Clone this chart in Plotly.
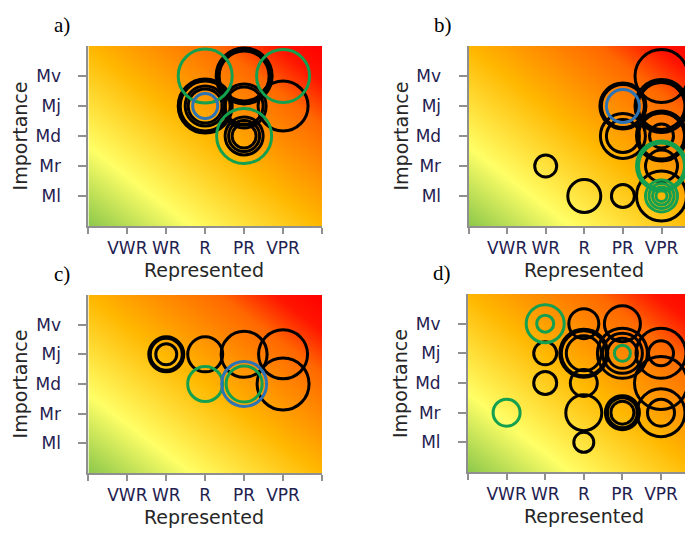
import plotly.graph_objects as go

# ---------------- data ----------------
x_categories = ["VWR", "WR", "R", "PR", "VPR"]
y_categories = ["Ml", "Mr", "Md", "Mj", "Mv"]
panel_labels = ["a)", "b)", "c)", "d)"]
x_title = "Represented"
y_title = "Importance"

# panel a  (group: k = black, g = green, b = blue)
a_x = ["R", "R", "R", "R", "PR", "PR", "PR", "PR", "PR", "PR", "PR", "PR", "VPR",
       "R", "VPR", "PR", "R"]
a_y = ["Mj", "Mj", "Mj", "Mj", "Mv", "Mv", "Mv", "Mj", "Mj", "Md", "Md", "Md", "Mj",
       "Mv", "Mv", "Md", "Mj"]
a_size = [54, 50, 40, 34, 56, 53, 50, 44, 38, 38, 31, 24, 50,
          54, 53, 55, 25]
a_group = ["k"] * 13 + ["g", "g", "g", "b"]

# panel b
b_x = ["VPR", "VPR", "VPR", "VPR", "PR", "PR", "PR", "PR", "VPR", "VPR", "VPR", "VPR", "VPR",
       "PR", "R", "WR",
       "VPR", "VPR", "VPR", "VPR", "VPR", "VPR", "PR"]
b_y = ["Mv", "Mj", "Mj", "Mj", "Mj", "Mj", "Md", "Md", "Md", "Md", "Md", "Mr", "Ml",
       "Ml", "Ml", "Mr",
       "Mr", "Mr", "Ml", "Ml", "Ml", "Ml", "Mj"]
b_size = [53, 53, 50, 47, 46, 43, 45, 33, 50, 46, 24, 32, 50,
          23, 33, 22,
          50, 46, 32, 25, 18, 11, 33]
b_group = ["k"] * 16 + ["g"] * 6 + ["b"]

# panel c
c_x = ["WR", "WR", "WR", "R", "PR", "VPR", "VPR", "R", "PR", "PR"]
c_y = ["Mj", "Mj", "Mj", "Mj", "Mj", "Mj", "Md", "Md", "Md", "Md"]
c_size = [35, 32, 21, 35, 46, 49, 52, 35, 45, 36]
c_group = ["k"] * 7 + ["g", "b", "g"]

# panel d
d_x = ["R", "PR", "WR", "R", "R", "R", "PR", "PR", "PR", "VPR", "VPR", "WR", "R", "VPR",
       "R", "PR", "PR", "PR", "VPR", "VPR", "R",
       "WR", "WR", "PR", "VWR"]
d_y = ["Mv", "Mv", "Mj", "Mj", "Mj", "Mj", "Mj", "Mj", "Mj", "Mj", "Mj", "Md", "Md", "Md",
       "Mr", "Mr", "Mr", "Mr", "Mr", "Mr", "Ml",
       "Mv", "Mv", "Mj", "Mr"]
d_size = [30, 36, 23, 48, 45, 35, 50, 40, 30, 50, 25, 23, 27, 53,
          36, 34, 30, 23, 48, 27, 20,
          38, 17, 16, 27]
d_group = ["k"] * 21 + ["g"] * 4

panels = [(a_x, a_y, a_size, a_group), (b_x, b_y, b_size, b_group),
          (c_x, c_y, c_size, c_group), (d_x, d_y, d_size, d_group)]

# ---------------- styling ----------------
OFF = 8                       # page body margin
W, H = 693 - OFF, 539 - OFF   # figure size so it fits the window exactly
group_colors = {"k": "#000000", "g": "#14A04E", "b": "#2E74B5"}
gradient = [[0.0, "#8CC84B"], [0.22, "#FFFF66"], [0.5, "#FFB700"],
            [0.78, "#FF6800"], [0.9, "#FF1500"], [1.0, "#FF0000"]]
tick_color = "#1F2150"
axis_gray = "#8F8F8F"


def fx(px):
    return (px - OFF) / W


def fy(py):
    return 1 - (py - OFF) / H


# window-pixel boxes of each plot area: (left, right, top, bottom, xmax)
boxes = [(88.4, 322, 46, 226, 6.0),
         (468.5, 693, 46, 226, (693 - 468.5) / 38.6),
         (88.4, 322, 295, 473, 6.0),
         (468, 693, 294, 472, (693 - 468) / 38.6)]

fig = go.Figure()
layout = dict(width=W, height=H, margin=dict(l=0, r=0, t=0, b=0),
              paper_bgcolor="white", plot_bgcolor="white", showlegend=False)
annotations = []

for i, ((px, py, ps, pg), (l, r, t, b, xmax)) in enumerate(zip(panels, boxes)):
    n = "" if i == 0 else str(i + 1)
    xa, ya = "x" + n, "y" + n
    # background gradient
    fig.add_trace(go.Heatmap(x=[0, 6], y=[0, 6], z=[[0, 0.5], [0.5, 1]], zmin=0, zmax=1,
                             zsmooth="best", colorscale=gradient, showscale=False,
                             hoverinfo="skip", xaxis=xa, yaxis=ya))
    for g in ["k", "g", "b"]:
        idx = [j for j in range(len(pg)) if pg[j] == g]
        if not idx:
            continue
        fig.add_trace(go.Scatter(
            x=[x_categories.index(px[j]) + 1 for j in idx],
            y=[y_categories.index(py[j]) + 1 for j in idx],
            mode="markers", xaxis=xa, yaxis=ya, hoverinfo="skip",
            marker=dict(symbol="circle-open", size=[ps[j] for j in idx], opacity=1,
                        color=group_colors[g], line=dict(width=3))))
    layout["xaxis" + n] = dict(
        domain=[fx(l), min(fx(r), 1.0)], range=[0, xmax], anchor=ya,
        tickvals=list(range(0, 7)), ticktext=[""] + x_categories + [""],
        showline=True, linecolor=axis_gray, linewidth=2, ticks="outside",
        ticklen=6, tickwidth=1.5, tickcolor=axis_gray, showgrid=False, zeroline=False,
        tickfont=dict(family="DejaVu Sans", size=17, color=tick_color))
    layout["yaxis" + n] = dict(
        domain=[fy(b), fy(t)], range=[0, 6], anchor=xa,
        tickvals=list(range(1, 6)), ticktext=y_categories,
        showline=True, linecolor=axis_gray, linewidth=2, ticks="outside",
        ticklen=8, tickwidth=1.5, tickcolor=axis_gray, showgrid=False, zeroline=False,
        ticklabelstandoff=14,
        tickfont=dict(family="DejaVu Sans", size=17, color=tick_color))
    # axis titles
    xc = (l + l + 6 * 38.6) / 2
    annotations.append(dict(text=x_title, x=fx(xc), y=fy(b + 44), xref="paper",
                            yref="paper", showarrow=False, xanchor="center", yanchor="middle",
                            font=dict(family="DejaVu Sans", size=19, color="#262626")))
    annotations.append(dict(text=y_title, x=fx(l - 68), y=fy((t + b) / 2),
                            xref="paper", yref="paper", showarrow=False, textangle=-90,
                            xanchor="center", yanchor="middle",
                            font=dict(family="DejaVu Sans", size=19, color="#262626")))
    # panel letter
    annotations.append(dict(text=panel_labels[i], x=fx(l - 26), y=fy(t - 21),
                            xref="paper", yref="paper", showarrow=False,
                            xanchor="center", yanchor="middle",
                            font=dict(family="Liberation Serif", size=21, color="black")))

layout["annotations"] = annotations
fig.update_layout(**layout)
fig.write_html("out.html")
